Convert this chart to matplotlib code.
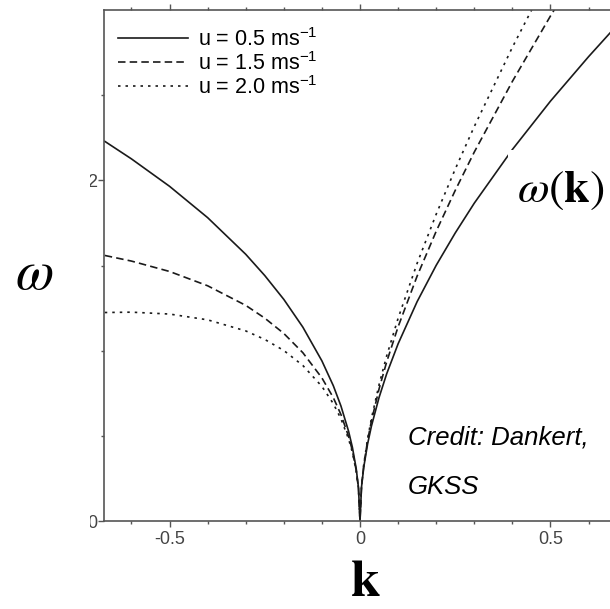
import matplotlib.pyplot as plt
from matplotlib.patches import Rectangle

plt.rcParams['font.family'] = ['Liberation Sans', 'DejaVu Sans']
plt.rcParams['mathtext.fontset'] = 'custom'
plt.rcParams['mathtext.rm'] = 'Liberation Sans'
plt.rcParams['mathtext.it'] = 'Liberation Sans:italic'
plt.rcParams['mathtext.bf'] = 'Liberation Sans:bold'

# wavenumber k and frequency omega, one list per current speed
k = [-0.67, -0.6, -0.5, -0.4, -0.3, -0.25, -0.2, -0.15, -0.1, -0.07, -0.05, -0.03,
     -0.02, -0.01, -0.004, 0.0, 0.004, 0.01, 0.02, 0.03, 0.05, 0.07, 0.1, 0.15,
     0.2, 0.25, 0.3, 0.4, 0.5, 0.6, 0.67]
omega_05 = [2.229, 2.126, 1.965, 1.781, 1.566, 1.441, 1.301, 1.138, 0.940, 0.794,
            0.675, 0.527, 0.433, 0.308, 0.196, 0.0, 0.200, 0.318, 0.453, 0.557,
            0.725, 0.864, 1.040, 1.288, 1.501, 1.691, 1.866, 2.181, 2.465, 2.726, 2.899]
omega_15 = [1.559, 1.526, 1.465, 1.381, 1.266, 1.191, 1.101, 0.988, 0.840, 0.724,
            0.625, 0.497, 0.413, 0.298, 0.192, 0.0, 0.204, 0.328, 0.473, 0.587,
            0.775, 0.934, 1.140, 1.438, 1.701, 1.941, 2.166, 2.581, 2.965, 3.326, 3.569]
omega_20 = [1.224, 1.226, 1.215, 1.181, 1.116, 1.066, 1.001, 0.913, 0.790, 0.689,
            0.600, 0.482, 0.403, 0.293, 0.190, 0.0, 0.206, 0.333, 0.483, 0.602,
            0.800, 0.969, 1.190, 1.513, 1.801, 2.066, 2.316, 2.781, 3.215, 3.626, 3.904]
labels = ['u = 0.5 ms$^{-1}$', 'u = 1.5 ms$^{-1}$', 'u = 2.0 ms$^{-1}$']

x_major = [-0.5, 0, 0.5]
x_major_labels = ['-0.5', '0', '0.5']
x_minor = [-0.6, -0.4, -0.3, -0.2, -0.1, 0.1, 0.2, 0.3, 0.4, 0.6]
y_major = [0, 2]
y_major_labels = ['0', '2']
y_minor = [0.5, 1.0, 1.5, 2.5]

W, H = 610, 609
fig = plt.figure(figsize=(W / 100, H / 100), dpi=100)
ax = fig.add_axes([104 / W, 88 / H, 512 / W, 511 / H])

line_col = '#1a1a1a'
ax.plot(k, omega_05, color=line_col, lw=1.2, label=labels[0])
ax.plot(k, omega_15, color=line_col, lw=1.2, linestyle=(0, (4.5, 2.5)), label=labels[1])
ax.plot(k, omega_20, color=line_col, lw=1.2, linestyle=(0, (1.5, 3.0)), label=labels[2])

ax.set_xlim(-0.672, 0.672)
ax.set_ylim(0, 3.0)
ax.set_xticks(x_major)
ax.set_xticklabels(x_major_labels)
ax.set_xticks(x_minor, minor=True)
ax.set_yticks(y_major)
ax.set_yticklabels(y_major_labels)
ax.set_yticks(y_minor, minor=True)

for s in ax.spines.values():
    s.set_color('#555555')
    s.set_linewidth(1.2)

ax.tick_params(which='major', direction='out', length=4, width=1.0, color='#555555',
               labelsize=13, labelcolor='#444444', top=True)
ax.tick_params(which='minor', direction='out', length=2.5, width=1.0, color='#555555', top=True)
ax.tick_params(axis='x', which='major', pad=3)
ax.tick_params(axis='y', which='major', pad=1)

ax.legend(loc='upper left', bbox_to_anchor=(118 / W, 1 - 28 / H), bbox_transform=fig.transFigure,
          frameon=False, fontsize=15.5, handlelength=3.25, handletextpad=0.45,
          labelspacing=0.05, borderpad=0, borderaxespad=0)

# white patches that hide the y tick labels and the curve behind omega(k)
fig.patches.append(Rectangle((0, 0), 90 / W, 1, transform=fig.transFigure,
                             facecolor='white', edgecolor='none', zorder=1))
fig.patches.append(Rectangle((508 / W, 1 - 230 / H), 1, 80 / H, transform=fig.transFigure,
                             facecolor='white', edgecolor='none', zorder=1))

fig.text(34 / W, 1 - 275 / H, r'$\omega$', math_fontfamily='stix', fontsize=40,
         ha='center', va='center', zorder=2)
fig.text(517 / W, 1 - 190 / H, r'$\omega(\mathbf{k})$', math_fontfamily='stix', fontsize=33,
         ha='left', va='center', zorder=2)
fig.text(365 / W, 1 - 582 / H, r'$\mathbf{k}$', math_fontfamily='stix', fontsize=38,
         ha='center', va='center', zorder=2)

fig.text(408 / W, 1 - 437 / H, 'Credit: Dankert,', style='italic', fontsize=18.5,
         ha='left', va='center', zorder=2)
fig.text(408 / W, 1 - 487 / H, 'GKSS', style='italic', fontsize=18.5,
         ha='left', va='center', zorder=2)

fig.savefig('out.png', dpi=100, facecolor='white')
